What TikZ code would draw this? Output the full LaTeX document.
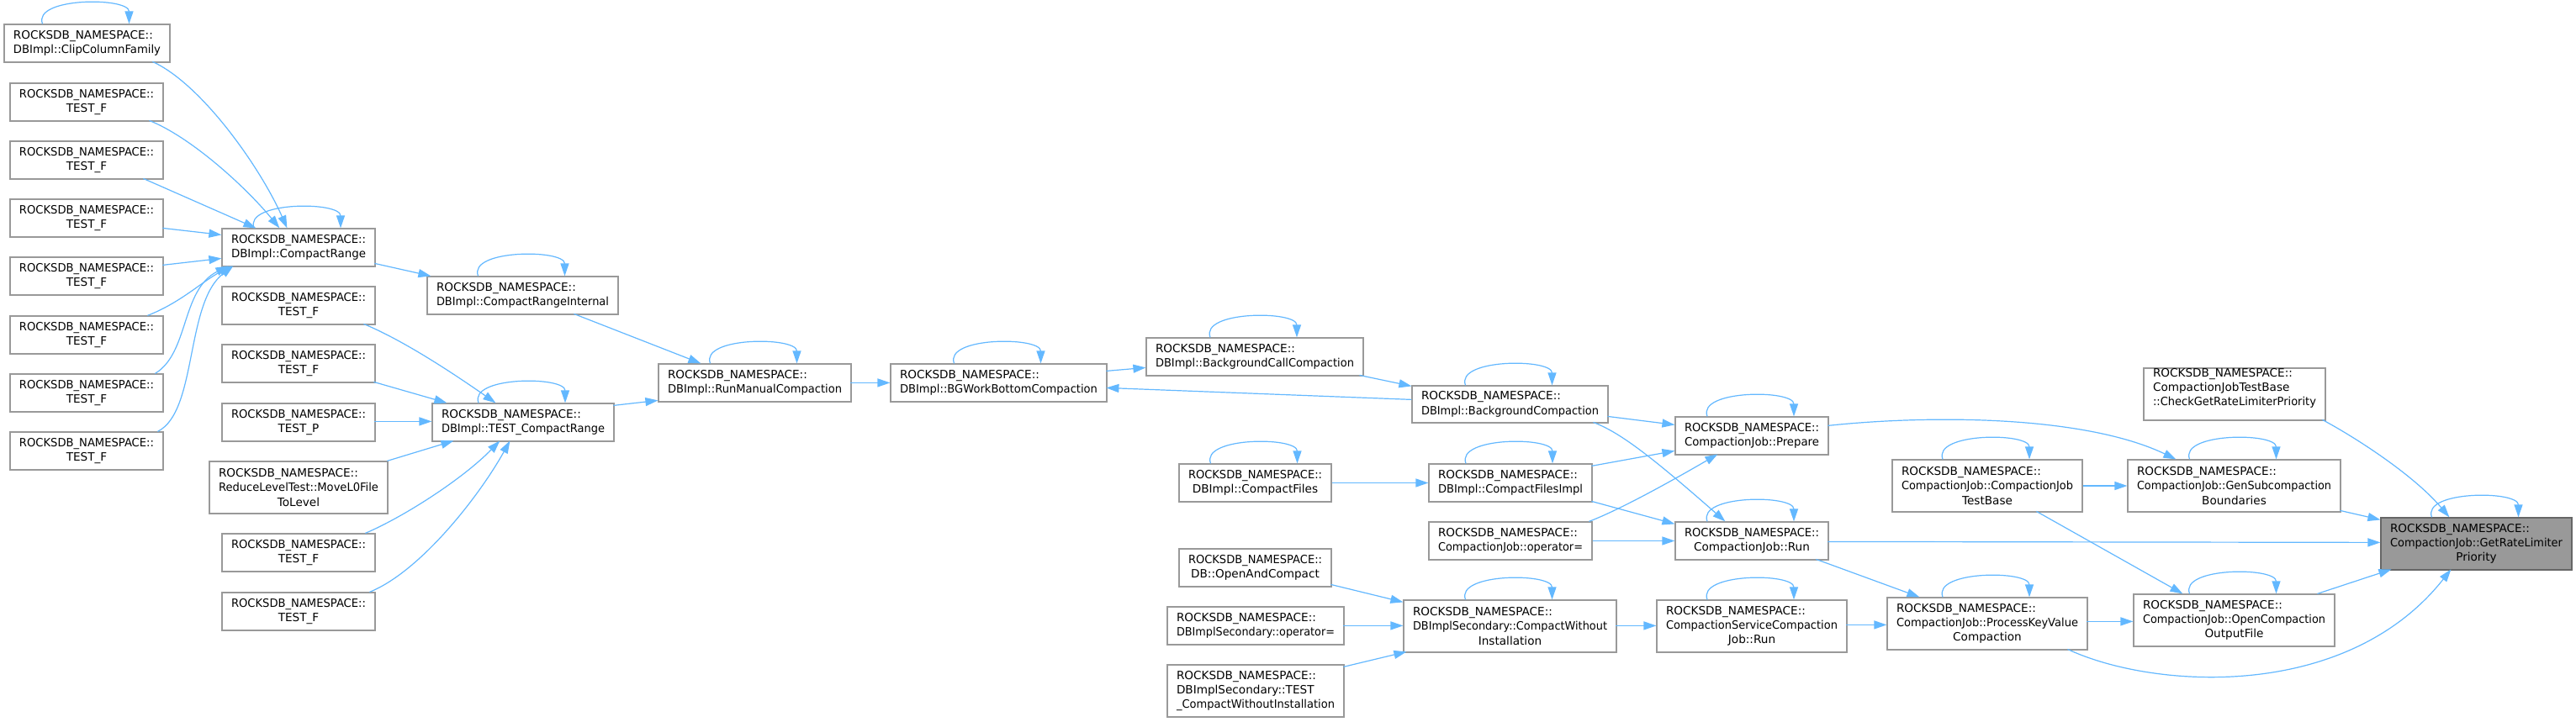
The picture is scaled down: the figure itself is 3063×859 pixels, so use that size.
\documentclass[tikz,border=0pt]{standalone}
\usepackage{fontspec}
\usepackage{graphicx}
\setmainfont{DejaVu Sans}
\usetikzlibrary{arrows.meta,calc}
\definecolor{edgec}{HTML}{63B8FF}
\definecolor{boxc}{HTML}{999999}
\definecolor{hlfill}{HTML}{999999}
\definecolor{hlborder}{HTML}{666666}
\newsavebox\tbox
\newcommand\fitl[1]{\sbox\tbox{#1}\ifdim\wd\tbox>\linewidth\resizebox{\linewidth}{\height}{#1}\else\usebox\tbox\fi}
\newcommand\lft[1]{\makebox[\linewidth][l]{\fitl{#1}}\\}
\newcommand\ctr[1]{\makebox[\linewidth][c]{\fitl{#1}}}
\newcommand\mkbox[7][]{\node[box,#1,minimum width={(#5-#3)*1pt},minimum height={(#6-#4)*1pt}] (#2) at ({(#3+#5)/2},{(#4+#6)/2}) {\parbox{\dimexpr#5pt-#3pt-22pt\relax}{#7}};}
\newcommand\selfloop[1]{\draw[arr] ($(#1.north)+(-53,0)$) .. controls ($(#1.north)+(-65,-32)$) and ($(#1.north)+(50,-32)$) .. ($(#1.north)+(50,0)$);}
\tikzset{
  box/.style={draw=boxc,line width=1.2pt,fill=white,inner sep=0pt,text=black,
    font=\fontsize{13.6}{17.3}\selectfont},
  hl/.style={fill=hlfill,draw=hlborder},
  arr/.style={draw=edgec,line width=1.2pt,-{Triangle[length=15pt,width=10pt]}}
}
\begin{document}
\begin{tikzpicture}[x=1pt,y=-1pt]
\useasboundingbox[fill=white] (0,0) rectangle (3063,859);
% column A
\mkbox{clip}{5}{29}{202}{74}{\lft{ROCKSDB\_NAMESPACE::}\ctr{DBImpl::ClipColumnFamily}}
\mkbox{tfa1}{12}{99}{194}{144}{\lft{ROCKSDB\_NAMESPACE::}\ctr{TEST\_F}}
\mkbox{tfa2}{12}{168}{194}{213}{\lft{ROCKSDB\_NAMESPACE::}\ctr{TEST\_F}}
\mkbox{tfa3}{12}{237}{194}{282}{\lft{ROCKSDB\_NAMESPACE::}\ctr{TEST\_F}}
\mkbox{tfa4}{12}{306}{194}{351}{\lft{ROCKSDB\_NAMESPACE::}\ctr{TEST\_F}}
\mkbox{tfa5}{12}{376}{194}{421}{\lft{ROCKSDB\_NAMESPACE::}\ctr{TEST\_F}}
\mkbox{tfa6}{12}{445}{194}{490}{\lft{ROCKSDB\_NAMESPACE::}\ctr{TEST\_F}}
\mkbox{tfa7}{12}{514}{194}{559}{\lft{ROCKSDB\_NAMESPACE::}\ctr{TEST\_F}}
% column B
\mkbox{crange}{264}{272}{446}{317}{\lft{ROCKSDB\_NAMESPACE::}\ctr{DBImpl::CompactRange}}
\mkbox{tfb1}{264}{341}{446}{386}{\lft{ROCKSDB\_NAMESPACE::}\ctr{TEST\_F}}
\mkbox{tfb2}{264}{410}{446}{455}{\lft{ROCKSDB\_NAMESPACE::}\ctr{TEST\_F}}
\mkbox{tpb}{264}{480}{446}{525}{\lft{ROCKSDB\_NAMESPACE::}\ctr{TEST\_P}}
\mkbox{reduce}{249}{549}{461}{611}{\lft{ROCKSDB\_NAMESPACE::}\lft{ReduceLevelTest::MoveL0File}\ctr{ToLevel}}
\mkbox{tfb3}{264}{635}{446}{680}{\lft{ROCKSDB\_NAMESPACE::}\ctr{TEST\_F}}
\mkbox{tfb4}{264}{705}{446}{750}{\lft{ROCKSDB\_NAMESPACE::}\ctr{TEST\_F}}
% column C
\mkbox{crint}{508}{329}{735}{374}{\lft{ROCKSDB\_NAMESPACE::}\ctr{DBImpl::CompactRangeInternal}}
\mkbox{testcr}{514}{480}{730}{525}{\lft{ROCKSDB\_NAMESPACE::}\ctr{DBImpl::TEST\_CompactRange}}
\mkbox{runman}{783}{433}{1012}{478}{\lft{ROCKSDB\_NAMESPACE::}\ctr{DBImpl::RunManualCompaction}}
\mkbox{bgwork}{1059}{433}{1316}{478}{\lft{ROCKSDB\_NAMESPACE::}\ctr{DBImpl::BGWorkBottomCompaction}}
\mkbox{bgcall}{1363}{402}{1621}{447}{\lft{ROCKSDB\_NAMESPACE::}\ctr{DBImpl::BackgroundCallCompaction}}
\mkbox{bgcomp}{1679}{459}{1912}{503}{\lft{ROCKSDB\_NAMESPACE::}\ctr{DBImpl::BackgroundCompaction}}
\mkbox{cfiles}{1402}{552}{1583}{597}{\lft{ROCKSDB\_NAMESPACE::}\ctr{DBImpl::CompactFiles}}
\mkbox{cfimpl}{1699}{552}{1893}{597}{\lft{ROCKSDB\_NAMESPACE::}\ctr{DBImpl::CompactFilesImpl}}
\mkbox{cjop}{1699}{621}{1893}{666}{\lft{ROCKSDB\_NAMESPACE::}\ctr{CompactionJob::operator=}}
\mkbox{prepare}{1992}{496}{2174}{541}{\lft{ROCKSDB\_NAMESPACE::}\ctr{CompactionJob::Prepare}}
\mkbox{run}{1992}{621}{2174}{666}{\lft{ROCKSDB\_NAMESPACE::}\ctr{CompactionJob::Run}}
\mkbox{openc}{1402}{653}{1583}{698}{\lft{ROCKSDB\_NAMESPACE::}\ctr{DB::OpenAndCompact}}
\mkbox{dbsop}{1388}{722}{1598}{767}{\lft{ROCKSDB\_NAMESPACE::}\ctr{DBImplSecondary::operator=}}
\mkbox{testcwi}{1388}{791}{1598}{853}{\lft{ROCKSDB\_NAMESPACE::}\lft{DBImplSecondary::TEST}\ctr{\_CompactWithoutInstallation}}
\mkbox{cwi}{1669}{714}{1922}{776}{\lft{ROCKSDB\_NAMESPACE::}\lft{DBImplSecondary::CompactWithout}\ctr{Installation}}
\mkbox{cscj}{1970}{714}{2196}{776}{\lft{ROCKSDB\_NAMESPACE::}\lft{CompactionServiceCompaction}\ctr{Job::Run}}
\mkbox{pkv}{2244}{711}{2482}{773}{\lft{ROCKSDB\_NAMESPACE::}\lft{CompactionJob::ProcessKeyValue}\ctr{Compaction}}
\mkbox{cjtb}{2250}{547}{2476}{609}{\lft{ROCKSDB\_NAMESPACE::}\lft{CompactionJob::CompactionJob}\ctr{TestBase}}
\mkbox{gensub}{2530}{547}{2783}{609}{\lft{ROCKSDB\_NAMESPACE::}\lft{CompactionJob::GenSubcompaction}\ctr{Boundaries}}
\mkbox{check}{2549}{438}{2765}{500}{\lft{ROCKSDB\_NAMESPACE::}\lft{CompactionJobTestBase}\lft{::CheckGetRateLimiterPriority}}
\mkbox{opencof}{2537}{707}{2776}{769}{\lft{ROCKSDB\_NAMESPACE::}\lft{CompactionJob::OpenCompaction}\ctr{OutputFile}}
\mkbox[hl]{grlp}{2831}{616}{3058}{678}{\lft{ROCKSDB\_NAMESPACE::}\lft{CompactionJob::GetRateLimiter}\ctr{Priority}}
% self loops
\foreach \n in {clip,crange,crint,testcr,runman,bgwork,bgcall,bgcomp,cfiles,cfimpl,prepare,run,cwi,cscj,cjtb,gensub,pkv,opencof,grlp}{\selfloop{\n}}
% edges into CompactRange
\draw[arr] ($(clip.north west)+(177,45)$) .. controls (240,100) and (310,200) .. ($(crange.north west)+(78,0)$);
\draw[arr] ($(tfa1.north west)+(166,45)$) .. controls (225,162) and (290,220) .. ($(crange.north west)+(69,0)$);
\draw[arr] ($(tfa2.north west)+(159,45)$) -- ($(crange.north west)+(41,0)$);
\draw[arr] ($(tfa3.north west)+(182,35)$) -- ($(crange.north west)+(0,8)$);
\draw[arr] ($(tfa4.north west)+(182,10)$) -- ($(crange.north west)+(0,36)$);
\draw[arr] ($(tfa5.north west)+(164,0)$) .. controls (215,360) and (240,335) .. ($(crange.north west)+(12,45)$);
\draw[arr] ($(tfa6.north west)+(173,0)$) .. controls (225,420) and (215,345) .. ($(crange.north west)+(8,45)$);
\draw[arr] ($(tfa7.north west)+(176,0)$) .. controls (235,490) and (220,360) .. ($(crange.north west)+(14,45)$);
\draw[arr] ($(crange.north west)+(182,42)$) -- ($(crint.north west)+(5,0)$);
\draw[arr] ($(crint.north west)+(175,45)$) -- ($(runman.north west)+(51,0)$);
% edges into TEST_CompactRange
\draw[arr] ($(tfb1.north west)+(169,45)$) .. controls (480,405) and (540,445) .. ($(testcr.north west)+(76,0)$);
\draw[arr] ($(tfb2.north west)+(181,45)$) -- ($(testcr.north west)+(18,0)$);
\draw[arr] ($(tpb.north west)+(182,22)$) -- ($(testcr.north west)+(0,22)$);
\draw[arr] ($(reduce.north west)+(212,0)$) -- ($(testcr.north west)+(26,45)$);
\draw[arr] ($(tfb3.north west)+(171,0)$) .. controls (480,615) and (550,570) .. ($(testcr.north west)+(81,45)$);
\draw[arr] ($(tfb4.north west)+(176,0)$) .. controls (500,680) and (570,590) .. ($(testcr.north west)+(93,45)$);
\draw[arr] ($(testcr.north west)+(216,3)$) -- ($(runman.north west)+(0,44)$);
% middle chain
\draw[arr] ($(runman.north west)+(229,23)$) -- ($(bgwork.north west)+(0,23)$);
\draw[arr] ($(bgwork.north west)+(257,9)$) -- ($(bgcall.north west)+(0,36)$);
\draw[arr] ($(bgcall.north west)+(254,45)$) -- ($(bgcomp.north west)+(0,1)$);
\draw[arr] ($(bgcomp.north west)+(0,17)$) -- ($(bgwork.north west)+(257,29)$);
\draw[arr] ($(bgcomp.north west)+(233,37)$) -- ($(prepare.north west)+(0,10)$);
\draw[arr] ($(bgcomp.north west)+(216,44)$) .. controls (1925,514) and (1960,540) .. ($(run.north west)+(60,0)$);
\draw[arr] (cfiles.east) -- (cfimpl.west);
\draw[arr] ($(cfimpl.north west)+(194,3)$) -- ($(prepare.north west)+(0,41)$);
\draw[arr] ($(cfimpl.north west)+(194,45)$) -- ($(run.north west)+(0,3)$);
\draw[arr] ($(cjop.north west)+(191,0)$) .. controls (1930,605) and (2000,565) .. ($(prepare.north west)+(51,45)$);
\draw[arr] (cjop.east) -- (run.west);
\draw[arr] ($(prepare.north west)+(182,11)$) .. controls (2300,493) and (2480,495) .. ($(gensub.north west)+(58,0)$);
\draw[arr] ($(run.north west)+(182,24)$) -- ($(grlp.north west)+(0,30)$);
\draw[arr] ($(run.north west)+(168,45)$) -- ($(pkv.north west)+(39,0)$);
% lower chain
\draw[arr] ($(openc.north west)+(181,43)$) -- ($(cwi.north west)+(0,3)$);
\draw[arr] ($(dbsop.north west)+(210,23)$) -- ($(cwi.north west)+(0,31)$);
\draw[arr] ($(testcwi.north west)+(210,3)$) -- ($(cwi.north west)+(4,62)$);
\draw[arr] ($(cwi.north west)+(253,31)$) -- ($(cscj.north west)+(0,31)$);
\draw[arr] ($(cscj.north west)+(226,30)$) -- ($(pkv.north west)+(0,33)$);
% right part
\draw[arr] (cjtb.east) -- (gensub.west);
\draw[arr] ($(cjtb.north west)+(172,62)$) -- ($(opencof.north west)+(59,0)$);
\draw[arr] ($(gensub.north west)+(253,61)$) -- ($(grlp.north west)+(0,3)$);
\draw[arr] ($(pkv.north west)+(238,29)$) -- ($(opencof.north west)+(0,33)$);
\draw[arr] ($(pkv.north west)+(215,62)$) .. controls (2560,820) and (2790,835) .. ($(grlp.north west)+(84,62)$);
\draw[arr] ($(opencof.north west)+(219,0)$) -- ($(grlp.north west)+(13,62)$);
\draw[arr] ($(check.north west)+(213,62)$) .. controls (2800,520) and (2870,565) .. ($(grlp.north west)+(82,0)$);
\end{tikzpicture}
\end{document}
